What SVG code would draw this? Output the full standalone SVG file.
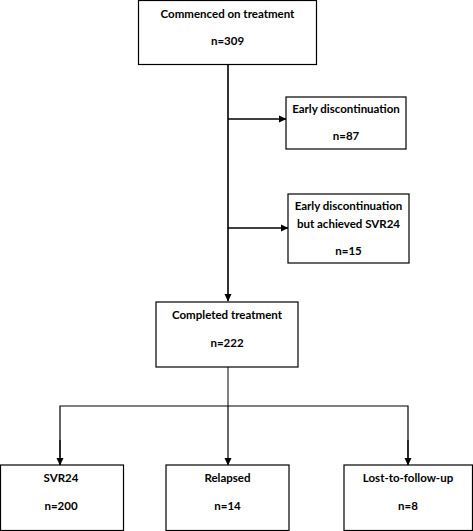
<svg xmlns="http://www.w3.org/2000/svg" width="473" height="531" viewBox="0 0 473 531">
<style>
.box{fill:#fff;stroke:#000;stroke-width:1.2}
.t{font-family:Lato,"Open Sans","Liberation Sans",sans-serif;font-weight:bold;font-size:11.5px;text-anchor:middle;fill:#000}
.c{stroke:#000;fill:none}
</style>
<defs>
<marker id="ah" markerWidth="8" markerHeight="8" refX="7" refY="4" orient="auto" markerUnits="userSpaceOnUse">
<path d="M0,0.5 L7.5,4 L0,7.5 z" fill="#000"/>
</marker>
</defs>
<g id="connectors">
<line class="c" x1="228" y1="64" x2="228" y2="301" stroke-width="1.6" marker-end="url(#ah)"/>
<line class="c" x1="228" y1="119" x2="286" y2="119" stroke-width="1.6" marker-end="url(#ah)"/>
<line class="c" x1="228" y1="228" x2="288" y2="228" stroke-width="1.6" marker-end="url(#ah)"/>
<line class="c" x1="228" y1="367" x2="228" y2="406" stroke-width="1"/>
<polyline class="c" points="60,465 60,406 408,406 408,465" stroke-width="1.2"/>
<line class="c" x1="60" y1="440" x2="60" y2="465" stroke-width="1.2" marker-end="url(#ah)"/>
<line class="c" x1="408" y1="440" x2="408" y2="465" stroke-width="1.2" marker-end="url(#ah)"/>
<line class="c" x1="228" y1="406" x2="228" y2="465" stroke-width="1.2" marker-end="url(#ah)"/>
</g>
<g id="commenced">
<rect class="box" x="138.5" y="0.5" width="178" height="64"/>
<text class="t" x="227.5" y="18">Commenced on treatment</text>
<text class="t" x="227.5" y="45">n=309</text>
</g>
<g id="early">
<rect class="box" x="286" y="97" width="120" height="52"/>
<text class="t" x="346" y="113">Early discontinuation</text>
<text class="t" x="346" y="140">n=87</text>
</g>
<g id="early-svr">
<rect class="box" x="288" y="194" width="121" height="69"/>
<text class="t" x="348.5" y="210">Early discontinuation</text>
<text class="t" x="348.5" y="228">but achieved SVR24</text>
<text class="t" x="348.5" y="255">n=15</text>
</g>
<g id="completed">
<rect class="box" x="156" y="302" width="142" height="65"/>
<text class="t" x="227" y="319">Completed treatment</text>
<text class="t" x="227" y="347">n=222</text>
</g>
<g id="svr24">
<rect class="box" x="0.5" y="465" width="123" height="65.5"/>
<text class="t" x="61" y="482">SVR24</text>
<text class="t" x="61" y="510">n=200</text>
</g>
<g id="relapsed">
<rect class="box" x="166" y="465" width="123" height="65.5"/>
<text class="t" x="227.5" y="482">Relapsed</text>
<text class="t" x="227.5" y="510">n=14</text>
</g>
<g id="lost">
<rect class="box" x="344" y="465" width="128.5" height="65.5"/>
<text class="t" x="408" y="482">Lost-to-follow-up</text>
<text class="t" x="408" y="510">n=8</text>
</g>
</svg>
